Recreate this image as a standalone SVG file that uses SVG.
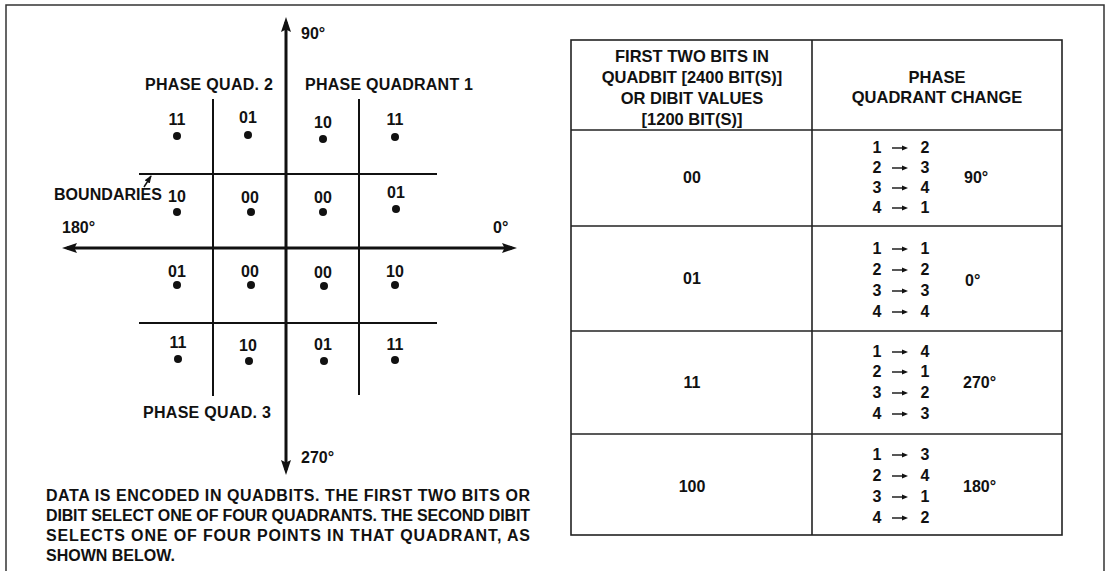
<svg xmlns="http://www.w3.org/2000/svg" width="1105" height="571" viewBox="0 0 1105 571">
<style>
.t{font-family:"Liberation Sans",Arial,Helvetica,sans-serif;font-weight:bold;font-size:16px;fill:#111}
.m{text-anchor:middle}
.ax{stroke:#111;stroke-width:3;fill:none}
.bd{stroke:#111;stroke-width:2;fill:none}
.tb{stroke:#222;stroke-width:1.6;fill:none}
.dot{fill:#111}
</style>
<defs>
<marker id="ah" viewBox="0 0 15 10" refX="10" refY="5" markerWidth="15" markerHeight="10" markerUnits="userSpaceOnUse" orient="auto-start-reverse">
<path d="M0,0 L15,5 L0,10 L2.5,5 z" fill="#111"/>
</marker>
<marker id="sh" viewBox="0 0 8 6" refX="7" refY="3" markerWidth="8" markerHeight="6" markerUnits="userSpaceOnUse" orient="auto">
<path d="M0,0 L8,3 L0,6 z" fill="#111"/>
</marker>
<g id="arw">
<line x1="0" y1="0" x2="12" y2="0" stroke="#111" stroke-width="1.4"/>
<path d="M10,-2.6 L16,0 L10,2.6 z" fill="#111"/>
</g>
</defs>
<rect width="1105" height="571" fill="#fff"/>
<g id="frame"><path d="M6,575 V5 H1104 V575" fill="none" stroke="#333" stroke-width="1.5"/></g>

<g id="boundaries">
<line class="bd" x1="139" y1="174" x2="437" y2="174"/>
<line class="bd" x1="139" y1="323" x2="437" y2="323"/>
<line class="bd" x1="213" y1="99" x2="213" y2="396"/>
<line class="bd" x1="359" y1="99" x2="359" y2="395"/>
</g>

<g id="connectors">
<line class="ax" x1="286" y1="470" x2="286" y2="22" marker-start="url(#ah)" marker-end="url(#ah)"/>
<line class="ax" x1="67" y1="248" x2="512" y2="248" marker-start="url(#ah)" marker-end="url(#ah)"/>
<line x1="144" y1="187" x2="151" y2="176" stroke="#111" stroke-width="1.5" marker-end="url(#sh)"/>
</g>

<g id="axis-labels">
<text class="t" x="301" y="39">90°</text>
<text class="t" x="62" y="233">180°</text>
<text class="t" x="493" y="233">0°</text>
<text class="t" x="301" y="463">270°</text>
<text class="t" x="145" y="90" textLength="128">PHASE QUAD. 2</text>
<text class="t" x="305" y="90" textLength="168">PHASE QUADRANT 1</text>
<text class="t" x="143" y="418" textLength="128">PHASE QUAD. 3</text>
<text class="t" x="54" y="200" textLength="108">BOUNDARIES</text>
</g>

<g id="points">
<g class="t m">
<text x="177" y="125">11</text><text x="248" y="123">01</text><text x="323" y="128">10</text><text x="395" y="125">11</text>
<text x="177" y="202">10</text><text x="250" y="203">00</text><text x="323" y="203">00</text><text x="396" y="198">01</text>
<text x="177" y="277">01</text><text x="250" y="277">00</text><text x="323" y="278">00</text><text x="395" y="277">10</text>
<text x="178" y="348">11</text><text x="248" y="351">10</text><text x="323" y="350">01</text><text x="395" y="350">11</text>
</g>
<circle class="dot" cx="177" cy="136" r="4"/><circle class="dot" cx="248" cy="135" r="4"/><circle class="dot" cx="323" cy="139" r="4"/><circle class="dot" cx="395" cy="137" r="4"/>
<circle class="dot" cx="177" cy="212" r="4"/><circle class="dot" cx="251" cy="212" r="4"/><circle class="dot" cx="323" cy="212" r="4"/><circle class="dot" cx="396" cy="209" r="4"/>
<circle class="dot" cx="177" cy="285" r="4"/><circle class="dot" cx="251" cy="285" r="4"/><circle class="dot" cx="324" cy="286" r="4"/><circle class="dot" cx="395" cy="285" r="4"/>
<circle class="dot" cx="178" cy="359" r="4"/><circle class="dot" cx="249" cy="361" r="4"/><circle class="dot" cx="324" cy="361" r="4"/><circle class="dot" cx="395" cy="360" r="4"/>
</g>

<g id="note" class="t">
<text x="46" y="501" textLength="484" lengthAdjust="spacing">DATA IS ENCODED IN QUADBITS. THE FIRST TWO BITS OR</text>
<text x="46" y="521" textLength="484" lengthAdjust="spacing">DIBIT SELECT ONE OF FOUR QUADRANTS. THE SECOND DIBIT</text>
<text x="46" y="541" textLength="484" lengthAdjust="spacing">SELECTS ONE OF FOUR POINTS IN THAT QUADRANT, AS</text>
<text x="46" y="561">SHOWN BELOW.</text>
</g>

<g id="table">
<rect class="tb" x="571" y="40" width="491" height="495"/>
<line class="tb" x1="812" y1="40" x2="812" y2="535"/>
<line class="tb" x1="571" y1="130" x2="1062" y2="130"/>
<line class="tb" x1="571" y1="226" x2="1062" y2="226"/>
<line class="tb" x1="571" y1="331" x2="1062" y2="331"/>
<line class="tb" x1="571" y1="434" x2="1062" y2="434"/>
<g class="t m" style="font-size:16.5px">
<text x="692" y="62">FIRST TWO BITS IN</text>
<text x="692" y="83">QUADBIT [2400 BIT(S)]</text>
<text x="692" y="104">OR DIBIT VALUES</text>
<text x="692" y="125">[1200 BIT(S)]</text>
<text x="937" y="83">PHASE</text>
<text x="937" y="103">QUADRANT CHANGE</text>
</g>
<g class="t m">
<text x="692" y="183">00</text>
<text x="692" y="284">01</text>
<text x="692" y="388">11</text>
<text x="692" y="492">100</text>
</g>
<g class="t">
<text x="964" y="183">90°</text>
<text x="965" y="286">0°</text>
<text x="963" y="388">270°</text>
<text x="963" y="492">180°</text>
</g>
<g class="t m">
<text y="153"><tspan x="877">1</tspan><tspan x="925">2</tspan></text>
<text y="173"><tspan x="877">2</tspan><tspan x="925">3</tspan></text>
<text y="193"><tspan x="877">3</tspan><tspan x="925">4</tspan></text>
<text y="213"><tspan x="877">4</tspan><tspan x="925">1</tspan></text>
<text y="254"><tspan x="877">1</tspan><tspan x="925">1</tspan></text>
<text y="275"><tspan x="877">2</tspan><tspan x="925">2</tspan></text>
<text y="296"><tspan x="877">3</tspan><tspan x="925">3</tspan></text>
<text y="317"><tspan x="877">4</tspan><tspan x="925">4</tspan></text>
<text y="357"><tspan x="877">1</tspan><tspan x="925">4</tspan></text>
<text y="377"><tspan x="877">2</tspan><tspan x="925">1</tspan></text>
<text y="398"><tspan x="877">3</tspan><tspan x="925">2</tspan></text>
<text y="419"><tspan x="877">4</tspan><tspan x="925">3</tspan></text>
<text y="460"><tspan x="877">1</tspan><tspan x="925">3</tspan></text>
<text y="481"><tspan x="877">2</tspan><tspan x="925">4</tspan></text>
<text y="502"><tspan x="877">3</tspan><tspan x="925">1</tspan></text>
<text y="523"><tspan x="877">4</tspan><tspan x="925">2</tspan></text>
</g>
<g id="change-arrows">
<use href="#arw" x="892" y="148"/><use href="#arw" x="892" y="168"/><use href="#arw" x="892" y="188"/><use href="#arw" x="892" y="208"/>
<use href="#arw" x="892" y="249"/><use href="#arw" x="892" y="270"/><use href="#arw" x="892" y="291"/><use href="#arw" x="892" y="312"/>
<use href="#arw" x="892" y="352"/><use href="#arw" x="892" y="372"/><use href="#arw" x="892" y="393"/><use href="#arw" x="892" y="414"/>
<use href="#arw" x="892" y="455"/><use href="#arw" x="892" y="476"/><use href="#arw" x="892" y="497"/><use href="#arw" x="892" y="518"/>
</g>
</g>
</svg>
